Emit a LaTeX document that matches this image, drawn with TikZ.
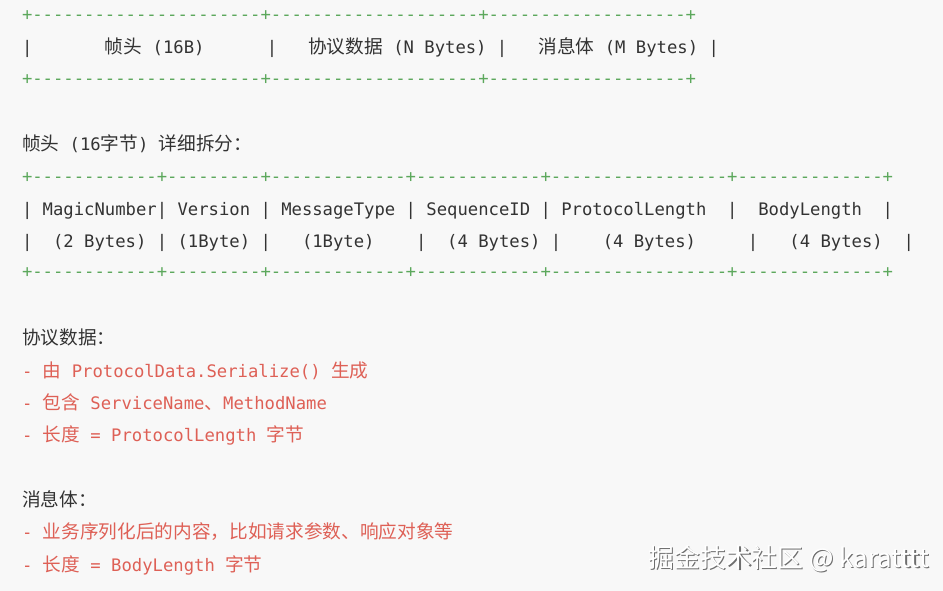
\documentclass[tikz,border=0pt]{standalone}
\usepackage{fontspec}
\usepackage{tikz}

\newfontfamily\codefont{DejaVu Sans Mono}
\newfontfamily\cjkfont{Noto Sans CJK SC}

\definecolor{pagebg}{RGB}{248,248,248}
\definecolor{codegray}{RGB}{51,51,51}
\definecolor{tblgreen}{RGB}{92,168,92}
\definecolor{notered}{RGB}{222,96,86}
\definecolor{markgray}{RGB}{110,110,110}

\newcommand{\zh}[1]{{\fontsize{14pt}{17pt}\cjkfont #1}}

\begin{document}
\begin{tikzpicture}[x=0.75pt,y=-0.75pt,
    codeline/.style={anchor=base west, inner sep=0pt, outer sep=0pt,
      font=\fontsize{12.92pt}{16pt}\codefont, text=codegray},
    gridline/.style={codeline, text=tblgreen},
    noteline/.style={codeline, text=notered},
    markline/.style={anchor=base west, inner sep=0pt,
      font=\fontsize{19.4pt}{23pt}\cjkfont}]

  % Page
  \fill[pagebg] (0,0) rectangle (943,591);
  \useasboundingbox (0,0) rectangle (943,591);

  % Frame layout
  \node[gridline] (frameTop) at (22,20.7) {+----------------------+--------------------+-------------------+};
  \node[codeline] (frameRow) at (22,53.5) {|~~~~~~~\zh{帧头}~(16B)~~~~~~|~~~\zh{协议数据}~(N~Bytes)~|~~~\zh{消息体}~(M~Bytes)~|};
  \node[gridline] (frameBot) at (22,84.7) {+----------------------+--------------------+-------------------+};

  % Header fields
  \node[codeline] (headTitle) at (22,151) {\zh{帧头}~(16\zh{字节})~\zh{详细拆分：}};
  \node[gridline] (headTop) at (22,182.7) {+------------+---------+-------------+------------+-----------------+--------------+};
  \node[codeline] (headNames) at (22,215.5) {|~MagicNumber|~Version~|~MessageType~|~SequenceID~|~ProtocolLength~~|~~BodyLength~~|};
  \node[codeline] (headSizes) at (22,247.5) {|~~(2~Bytes)~|~(1Byte)~|~~~(1Byte)~~~~|~~(4~Bytes)~|~~~~(4~Bytes)~~~~~|~~~(4~Bytes)~~|};
  \node[gridline] (headBot) at (22,277.7) {+------------+---------+-------------+------------+-----------------+--------------+};

  % Protocol data notes
  \node[codeline] (protoTitle) at (22,345) {\zh{协议数据：}};
  \node[noteline] (protoA) at (22,377.5) {-~\zh{由}~ProtocolData.Serialize()~\zh{生成}};
  \node[noteline] (protoB) at (22,409.5) {-~\zh{包含}~ServiceName\zh{、}MethodName};
  \node[noteline] (protoC) at (22,442) {-~\zh{长度}~=~ProtocolLength~\zh{字节}};

  % Message body notes
  \node[codeline] (bodyTitle) at (22,506.5) {\zh{消息体：}};
  \node[noteline] (bodyA) at (22,538.5) {-~\zh{业务序列化后的内容，比如请求参数、响应对象等}};
  \node[noteline] (bodyB) at (22,571) {-~\zh{长度}~=~BodyLength~\zh{字节}};

  % Watermark
  \node[markline, text=markgray] (markShadow) at (649.2,568.7) {掘金技术社区 @ karatttt};
  \node[markline, text=white] (markText) at (648,567.5) {掘金技术社区 @ karatttt};
\end{tikzpicture}
\end{document}
